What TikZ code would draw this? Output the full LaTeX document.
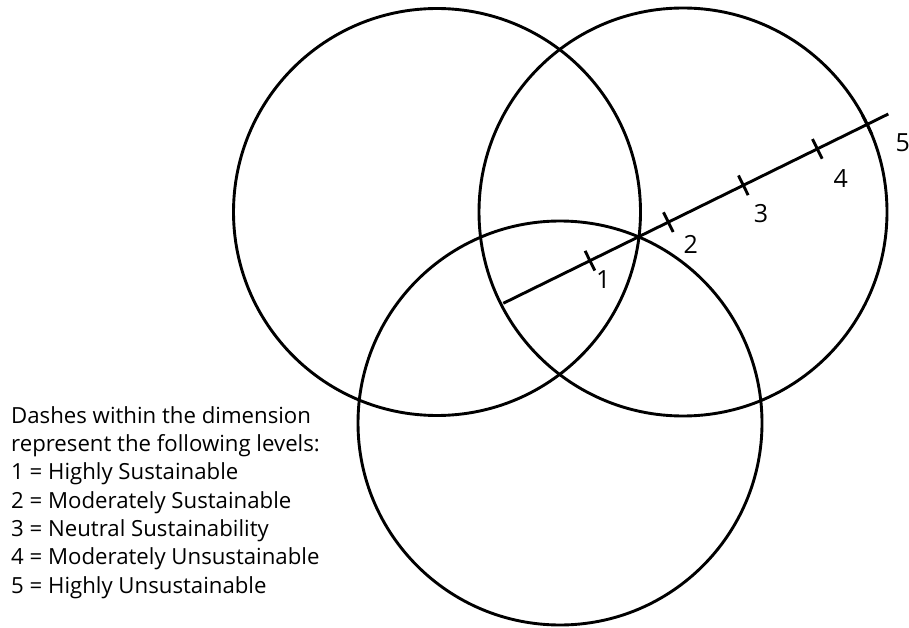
\documentclass[tikz,border=0pt]{standalone}
\usepackage{fontspec}
\setmainfont{Open Sans}
\usetikzlibrary{calc}
\tikzset{
  ring/.style={line width=2.9pt},
  scaleline/.style={line width=2.9pt},
  num/.style={font=\fontsize{25}{30}\selectfont, inner sep=0pt},
  legend/.style={font=\fontsize{22.2}{28.3}\selectfont, inner sep=0pt, align=left, anchor=base west}
}
\begin{document}
\begin{tikzpicture}[x=1pt,y=-1pt]
    \useasboundingbox (0,0) rectangle (909,628);
    \draw[ring] (437,212) circle[radius=203.5pt];
    \draw[ring] (683,212) circle[radius=204pt];
    \draw[ring] (560,423) circle[radius=202pt];
    % the dimension with its five dashes
    \coordinate (s) at (503.3,303.3);
    \coordinate (e) at (888.3,114);
    \draw[scaleline] (s) -- (e)
        coordinate[pos=0.225] (t1)
        coordinate[pos=0.4286] (t2)
        coordinate[pos=0.6234] (t3)
        coordinate[pos=0.8156] (t4)
        coordinate[pos=0.9447] (t5);
    \foreach \i in {1,...,5}
        \draw[scaleline] ($(t\i)!11pt!90:(e)$) -- ($(t\i)!11pt!-90:(e)$);
    \node[num] (n1) at (603.3,280) {1};
    \node[num] (n2) at (690.7,244) {2};
    \node[num] (n3) at (761,213.3) {3};
    \node[num] (n4) at (840.7,178.3) {4};
    \node[num] (n5) at (902.7,142.7) {5};
    \node[legend] (key) at (11,593) {Dashes within the dimension\\
        represent the following levels:\\
        1 = Highly Sustainable\\
        2 = Moderately Sustainable\\
        3 = Neutral Sustainability\\
        4 = Moderately Unsustainable\\
        5 = Highly Unsustainable};
\end{tikzpicture}
\end{document}
